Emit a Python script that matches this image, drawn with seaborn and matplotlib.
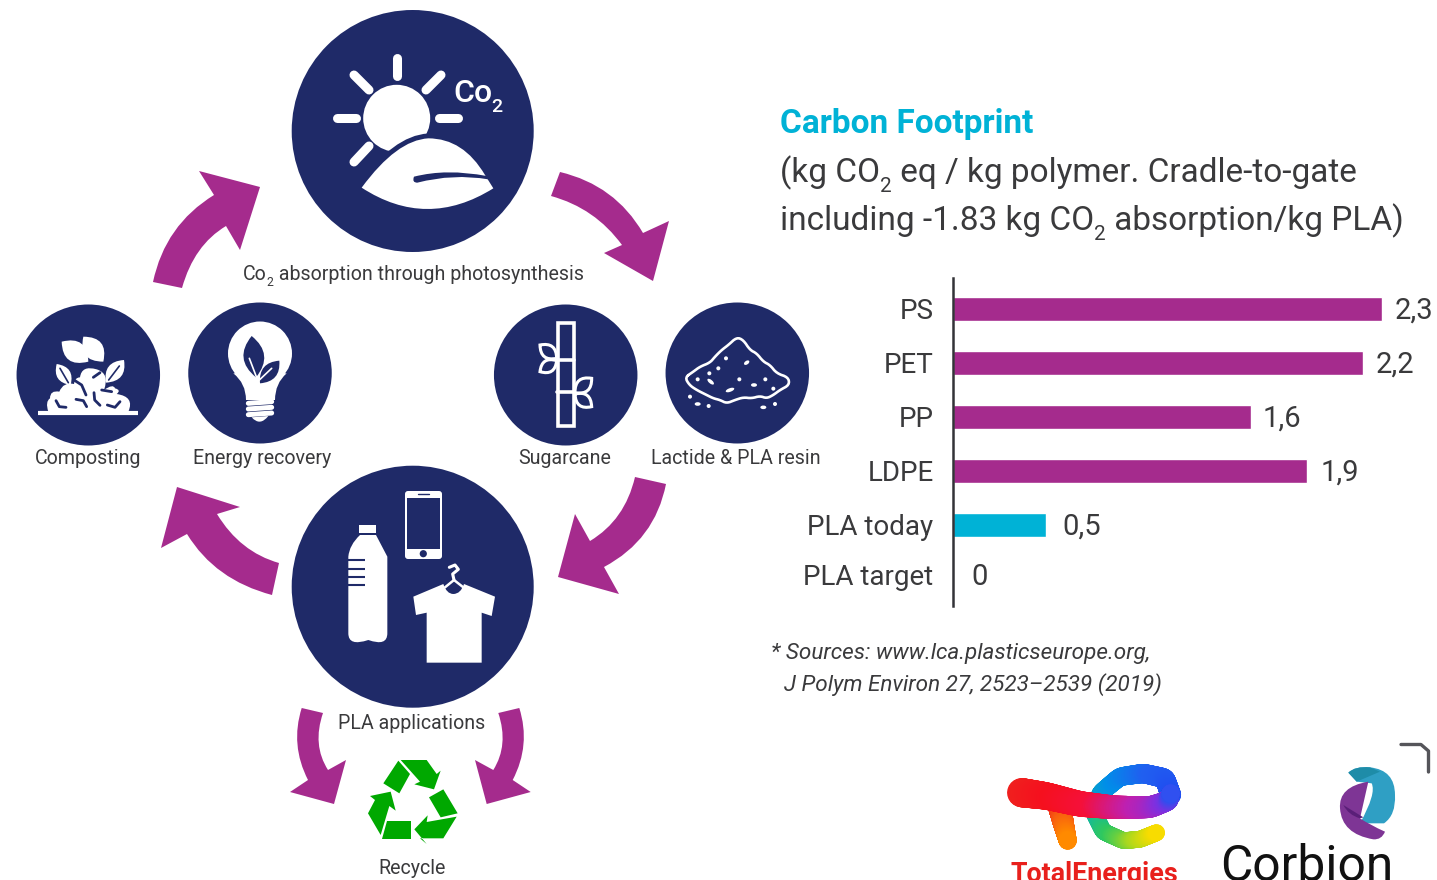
"""Carbon footprint of PLA: life cycle icons on the left, bar chart on the right"""

import numpy as np
import pandas as pd
import matplotlib

matplotlib.use("Agg")
import matplotlib.pyplot as plt
import seaborn as sns
from matplotlib.collections import LineCollection
from matplotlib.colors import LinearSegmentedColormap
from matplotlib.patches import Circle, Ellipse, FancyBboxPatch, PathPatch, Rectangle
from matplotlib.path import Path
from matplotlib.transforms import ScaledTranslation

polymers = ["PS", "PET", "PP", "LDPE", "PLA today", "PLA target"]
footprint = [2.3, 2.2, 1.6, 1.9, 0.5, 0.0]
footprint_labels = ["2,3", "2,2", "1,6", "1,9", "0,5", "0"]

NAVY = "#1F2A68"
PURPLE = "#A52B8D"
CYAN = "#00B2D6"
GREEN = "#00A800"
TEXT = "#3A3A3C"
FONT = ["Roboto", "DejaVu Sans"]

sns.set_theme(style="white")
plt.rcParams["font.family"] = FONT

fig = plt.figure(figsize=(14.37, 8.8), dpi=100)

# background axes in picture pixels, for everything that is not the bar chart
bg = fig.add_axes([0, 0, 1, 1])
bg.set_xlim(0, 1437)
bg.set_ylim(880, 0)
bg.axis("off")


def shape(points, color, **kwargs):
    """points: (x, y) are line ends, (x, y, cx, cy) is a quadratic curve with control point"""
    verts = [points[0][:2]]
    codes = [Path.MOVETO]
    for p in points[1:]:
        if len(p) == 4:
            verts += [p[2:], p[:2]]
            codes += [Path.CURVE3, Path.CURVE3]
        else:
            verts.append(p)
            codes.append(Path.LINETO)
    verts.append(points[0][:2])
    codes.append(Path.CLOSEPOLY)
    kwargs.setdefault("lw", 0)
    patch = PathPatch(Path(verts, codes), fc=color, ec=kwargs.pop("ec", color), **kwargs)
    bg.add_patch(patch)


def zoomed(points, ox, oy):
    # the icons were measured on 3x crops
    out = []
    for p in points:
        q = [ox + p[0] / 3, oy + p[1] / 3]
        if len(p) == 4:
            q += [ox + p[2] / 3, oy + p[3] / 3]
        out.append(tuple(q))
    return out


def stroke(points, color="white", lw=5, cap="round"):
    xs, ys = zip(*points)
    bg.plot(xs, ys, color=color, lw=lw, solid_capstyle=cap, solid_joinstyle="round")


def leaf(p0, p1, bulge, color="white", outline=False, lw=1.6):
    p0, p1 = np.array(p0, float), np.array(p1, float)
    mid = (p0 + p1) / 2
    d = p1 - p0
    n = np.array([-d[1], d[0]]) * bulge
    pts = [tuple(p0), (*p1, *(mid + n)), (*p0, *(mid - n))]
    if outline:
        shape(pts, "none", ec=color, lw=lw)
    else:
        shape(pts, color)


def rounded(points, passes=2):
    # corner cutting for the closed powder outline
    pts = np.array(points, float)
    for _ in range(passes):
        nxt = np.roll(pts, -1, axis=0)
        pts = np.stack([0.75 * pts + 0.25 * nxt, 0.25 * pts + 0.75 * nxt], axis=1).reshape(-1, 2)
    return [tuple(p) for p in np.vstack([pts, pts[:1]])]


def runs(x, y, parts, size, color=TEXT, **kwargs):
    """Text with subscripts: parts are (string, is_subscript)"""
    rend = fig.canvas.get_renderer()
    for s, sub in parts:
        t = bg.text(x, y + (size * 0.42 if sub else 0), s, color=color, va="baseline",
                    fontsize=size * 0.62 if sub else size, **kwargs)
        x += t.get_window_extent(rend).width


# circles
for cx, cy, r in [(412.7, 131, 121), (412.7, 586.7, 121)]:
    bg.add_patch(Circle((cx, cy), r, fc=NAVY, ec="none"))
for cx, cy in [(88.3, 375), (260, 373), (565.7, 375), (737.3, 373)]:
    bg.add_patch(Ellipse((cx, cy), 143.5, 141, fc=NAVY, ec="none"))

# sun and leaf
bg.add_patch(Circle((396.7, 118.3), 33.5, fc="white", ec="none"))
for ray in [[(397, 58), (397, 76)], [(337, 118), (356, 118)], [(439, 118), (458, 118)],
            [(354, 75), (369, 90)], [(441, 75), (426, 90)], [(354, 162), (369, 146)]]:
    stroke(ray, lw=6.5)
leaf_pts = zoomed([(245, 563), (445, 415, 350, 420), (615, 525, 550, 415), (640, 565),
                   (245, 563, 440, 690)], 280, 0)
shape(leaf_pts, "white", ec=NAVY, lw=7)
shape(leaf_pts, "white")
shape(zoomed([(402, 530), (620, 528, 500, 505), (625, 538), (412, 548, 520, 520),
              (402, 530, 395, 548)], 280, 0), NAVY)
bg.text(453.5, 102, "Co", color="white", fontsize=23, fontweight="medium", va="baseline")
bg.text(491, 112, "2", color="white", fontsize=14, fontweight="medium", va="baseline")

# purple cycle arrows
arrows = [
    [(560, 172), (643, 233, 615, 185), (669, 221), (653, 281), (604, 253), (622, 245),
     (551, 196, 595, 208)],
    [(153, 282), (214, 195, 165, 225), (199, 171), (260, 187), (240, 250), (226, 226),
     (182, 288, 194, 245)],
    [(635, 477), (590, 541, 625, 520), (575, 514), (558, 577), (619, 594), (604, 567),
     (666, 484, 655, 540)],
    [(279, 563), (217, 514, 240, 552), (240, 507), (177, 487), (161, 548), (187, 534),
     (272, 595, 215, 580)],
    [(301.7, 708), (308, 780, 290, 745), (290, 792), (334, 804), (346, 760), (328, 770),
     (323, 713, 312, 745)],
    [(519.3, 708), (512.7, 780, 531, 745), (530.7, 792), (486.7, 804), (475, 760), (493.3, 770),
     (498.3, 713, 509, 745)],
]
for arrow in arrows:
    shape(arrow, PURPLE)

# composting
mound = [(145, 365), (150, 325, 135, 335), (178, 305, 150, 300), (222, 282, 190, 275),
         (240, 262, 225, 262), (290, 238, 245, 225), (312, 300, 330, 250), (345, 295, 340, 280),
         (350, 312, 365, 300), (385, 365, 405, 320)]
shape(zoomed(mound, 0, 290), "white")
stroke(zoomed([(115, 370), (415, 370)], 0, 290), lw=3, cap="butt")
for a, b in [((185, 155), (265, 215)), ((250, 140), (310, 215))]:
    leaf(*zoomed([a, b], 0, 290), 0.62)
for a, b in [((170, 222), (212, 285)), ((372, 210), (318, 278))]:
    leaf(*zoomed([a, b], 0, 290), 0.55)
for a, b in [((180, 235), (205, 278)), ((358, 228), (326, 270))]:
    stroke(zoomed([a, b], 0, 290), NAVY, lw=1.2)
for sq in [[(168, 332), (178, 350), (198, 352)], [(228, 328), (250, 332), (260, 350)],
           [(282, 308), (284, 330), (300, 346)], [(322, 345), (345, 352), (360, 335)],
           [(280, 262), (300, 248)], [(222, 270), (245, 285), (258, 315)],
           [(305, 300), (335, 305)]]:
    stroke(zoomed(sq, 0, 290), NAVY, lw=2)

# light bulb
bg.add_patch(Circle((260, 353.5), 32, fc="white", ec="none"))
shape(zoomed([(700, 250), (860, 250), (825, 330, 825, 280), (738, 330), (700, 250, 738, 280)],
             0, 290), "white")
leaf(*zoomed([(755, 138), (768, 262)], 0, 290), 0.5, NAVY)
leaf(*zoomed([(838, 212), (780, 280)], 0, 290), 0.5, NAVY)
stroke(zoomed([(748, 205), (772, 268)], 0, 290), "white", lw=1.2)
stroke(zoomed([(815, 235), (778, 270)], 0, 290), "white", lw=1.2)
for y in [340, 357, 374]:
    stroke(zoomed([(745, y), (815, y - 5)], 0, 290), lw=3.6)
shape(zoomed([(755, 382), (805, 378), (755, 382, 780, 410)], 0, 290), "white")

# sugarcane
bg.add_patch(Rectangle((557.5, 323.5), 16, 103, fc="none", ec="white", lw=2.6))
stroke(zoomed([(232, 210), (282, 210)], 480, 290), lw=2.6)
stroke(zoomed([(232, 305), (282, 305)], 480, 290), lw=2.6)
for a, b, bend in [((230, 205), (180, 165), 0.6), ((230, 212), (180, 245), 0.6),
                   ((285, 308), (335, 265), 0.6), ((285, 312), (335, 350), 0.6)]:
    leaf(*zoomed([a, b], 480, 290), bend, outline=True, lw=2.2)

# lactide powder
pile = [(615, 262), (640, 245), (660, 230), (690, 218), (705, 200), (725, 180), (745, 165),
        (770, 142), (790, 150), (810, 180), (830, 190), (850, 215), (870, 225), (890, 250),
        (925, 262), (928, 285), (900, 300), (880, 315), (860, 325), (840, 318), (815, 325),
        (790, 322), (765, 330), (740, 340), (720, 330), (700, 325), (680, 315), (650, 300),
        (628, 285)]
stroke(rounded(zoomed(pile, 480, 290)), lw=1.9)
grains = [(738, 205), (715, 235), (688, 250), (653, 268), (778, 268), (856, 268), (880, 296),
          (630, 320), (686, 348), (885, 342)]
for gx, gy in zoomed(grains, 480, 290):
    bg.add_patch(Circle((gx, gy), 2, fc="white", ec="none"))
for gx, gy, gw, ga in [(800, 218, 6, -35), (692, 275, 8, 40), (822, 285, 6, 0), (750, 300, 9, -20),
                       (653, 342, 6, 0), (850, 352, 6, 0)]:
    x0, y0 = zoomed([(gx, gy)], 480, 290)[0]
    bg.add_patch(Ellipse((x0, y0), gw, 3.6, angle=ga, fc="white", ec="none"))

# bottle
shape(zoomed([(238, 165), (288, 165), (288, 190), (238, 190)], 280, 470), "white")
shape(zoomed([(240, 195), (288, 195), (322, 260), (322, 490), (265, 510, 322, 530),
              (205, 490, 205, 530), (205, 260), (240, 195, 208, 225)], 280, 470), "white")
for y in [270, 296, 321, 346]:
    stroke(zoomed([(205, y), (255, y)], 280, 470), NAVY, lw=1.5, cap="butt")
# phone
bg.add_patch(FancyBboxPatch((405, 491), 37, 68, boxstyle="round,pad=0,rounding_size=3",
                            fc="white", ec="none"))
shape(zoomed([(382, 83), (480, 83), (480, 237), (382, 237)], 280, 470), NAVY)
bg.add_patch(Circle((423.3, 553.7), 3.6, fc=NAVY, ec="none"))
stroke(zoomed([(414, 72), (446, 72)], 280, 470), NAVY, lw=1)
# shirt on hanger
shape(zoomed([(400, 380), (490, 342), (520, 372, 500, 372), (552, 342, 542, 372), (645, 380),
              (635, 438), (605, 428), (605, 578), (440, 578), (440, 428), (408, 435)],
             280, 470), "white")
stroke(zoomed([(495, 352), (522, 330), (550, 352)], 280, 470), lw=1.8)
stroke(zoomed([(522, 330), (518, 312), (535, 298), (525, 285), (508, 292)], 280, 470), lw=2.2)

# recycle sign
recycle = [
    [(355, 182), (390, 222), (358, 280), (310, 250)],
    [(362, 180), (440, 180), (470, 222), (482, 212), (462, 268), (403, 253), (420, 245)],
    [(490, 268), (533, 340), (482, 352), (447, 292)],
    [(530, 350), (490, 415), (420, 415), (440, 432), (403, 388), (443, 346), (440, 366)],
    [(320, 362), (392, 362), (392, 416), (307, 416)],
    [(302, 405), (264, 340), (285, 300), (270, 288), (332, 275), (347, 332), (328, 318)],
]
for piece in recycle:
    shape(zoomed(piece, 280, 700), GREEN)

# icon captions
runs(243, 280, [("Co", False), ("2", True), (" absorption through photosynthesis", False)], 14.1)
for x, y, s in [(88, 464, "Composting"), (262, 464, "Energy recovery"), (565, 464, "Sugarcane"),
                (736, 464, "Lactide & PLA resin"), (412, 729, "PLA applications"),
                (412, 874, "Recycle")]:
    bg.text(x, y, s, color=TEXT, fontsize=14.1, ha="center", va="baseline")

# title block
bg.text(780, 133, "Carbon Footprint", color=CYAN, fontsize=24, fontweight="bold", va="baseline")
runs(780, 182, [("(kg CO", False), ("2", True), (" eq / kg polymer. Cradle-to-gate", False)], 24)
runs(780, 230, [("including -1.83 kg CO", False), ("2", True), (" absorption/kg PLA)", False)], 24)

bg.text(771, 659, "* Sources: www.lca.plasticseurope.org,", color=TEXT, fontsize=16.2, style="italic")
bg.text(784, 691, "J Polym Environ 27, 2523–2539 (2019)", color=TEXT, fontsize=16.2, style="italic")


# TotalEnergies logo, ribbons coloured along their length
def ribbon(points, colors, w0, w1):
    pts = np.array(zoomed(points, 980, 730))
    t = np.linspace(0, len(pts) - 1, 300)
    xs = np.interp(t, np.arange(len(pts)), pts[:, 0])
    ys = np.interp(t, np.arange(len(pts)), pts[:, 1])
    for _ in range(60):
        xs[1:-1] = (xs[:-2] + xs[1:-1] + xs[2:]) / 3
        ys[1:-1] = (ys[:-2] + ys[1:-1] + ys[2:]) / 3
    segs = np.stack([np.c_[xs[:-1], ys[:-1]], np.c_[xs[1:], ys[1:]]], axis=1)
    lc = LineCollection(segs, cmap=LinearSegmentedColormap.from_list("r", colors),
                        linewidths=np.linspace(w0, w1, len(segs)), capstyle="round")
    lc.set_array(np.linspace(0, 1, len(segs)))
    bg.add_collection(lc)


ribbon([(345, 255), (360, 190), (420, 140), (490, 130), (555, 145), (572, 195)],
       ["#10B8A8", "#0090E8", "#2060F0", "#2050F0"], 12, 15)
ribbon([(345, 255), (370, 305), (430, 332), (480, 328), (530, 308)],
       ["#10B8A8", "#30C860", "#A8D820", "#F8DC00"], 12, 12)
ribbon([(238, 225), (250, 280), (263, 332)], ["#F02818", "#F86010", "#FF8A00"], 17, 13)
ribbon([(125, 188), (200, 198), (300, 222), (400, 232), (510, 232), (565, 212), (572, 190)],
       ["#F0201E", "#F5101E", "#F5103A", "#C020B0", "#8030E0", "#3050F0"], 21, 13)
bg.text(1094.5, 882, "TotalEnergies", color="#E8201C", fontsize=19.4, fontweight="bold",
        ha="center", va="baseline")

# Corbion logo
shape(zoomed([(1105, 128), (1170, 112, 1125, 108), (1245, 195, 1245, 120), (1212, 280, 1248, 255),
              (1140, 280), (1175, 160, 1190, 190), (1130, 155)], 980, 730), "#2F9FC4")
shape(zoomed([(1165, 155), (1080, 235, 1075, 170), (1180, 328, 1085, 312), (1215, 305, 1205, 330),
              (1140, 265, 1170, 285)], 980, 730), "#7E3595")
shape(zoomed([(1090, 225), (1150, 262), (1140, 265), (1090, 225, 1105, 255)], 980, 730), "#5A1F78")
shape(zoomed([(1105, 128), (1170, 112, 1125, 108), (1200, 125), (1130, 155)], 980, 730), "#1E8CA8")
bg.text(1307, 881, "Corbion", color="#111111", fontsize=35.8, ha="center", va="baseline")
bg.plot([1401, 1421, 1428.5, 1428.5], [744.5, 744.5, 751, 772], color="#55555A", lw=2.4,
        solid_joinstyle="round")

# bar chart
PX_W, PX_H = 1437, 880
ax = fig.add_axes([953 / PX_W, 1 - 606 / PX_H, (PX_W - 953) / PX_W, 328 / PX_H])
ax.patch.set_alpha(0)
df = pd.DataFrame({"polymer": polymers, "footprint": footprint})
palette = dict(zip(polymers, [PURPLE] * 4 + [CYAN] * 2))
sns.barplot(data=df, x="footprint", y="polymer", hue="polymer", palette=palette, width=0.44,
            dodge=False, legend=False, saturation=1, ax=ax)
ax.set_xlim(0, 484 / 186.5)
ax.set_ylim(5.5, -0.574)
ax.set_xlabel("")
ax.set_ylabel("")
ax.set_xticks([])
ax.tick_params(axis="y", length=0, pad=14, labelsize=20, labelcolor=TEXT)
sns.despine(ax=ax, left=False, right=True, top=True, bottom=True)
ax.spines["left"].set_color("#333338")
ax.spines["left"].set_linewidth(1.8)
# the last row sits a little higher in the picture
last = ax.get_yticklabels()[5]
last.set_transform(last.get_transform() + ScaledTranslation(0, 4 / 100, fig.dpi_scale_trans))
for i, (v, s) in enumerate(zip(footprint, footprint_labels)):
    ax.annotate(s, (v, i), xytext=([13, 12, 11, 13, 16, 18][i], 2 if i == 5 else -2),
                textcoords="offset pixels", va="center", ha="left", fontsize=21, color=TEXT)

fig.savefig("out.png", dpi=100)
